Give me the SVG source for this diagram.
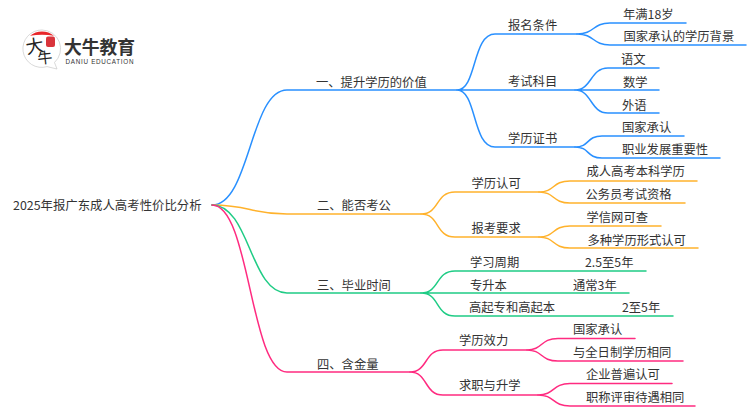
<svg xmlns="http://www.w3.org/2000/svg" width="750" height="410" viewBox="0 0 750 410">
<style>
text{font-family:"Noto Sans CJK SC","Liberation Sans",sans-serif;font-size:12.3px;fill:#333}
.c{fill:none;stroke-width:1.5;stroke-linecap:round}
.b{stroke:#2990ff}.o{stroke:#ffb22c}.g{stroke:#1fcc85}.p{stroke:#ff2b80}
</style>
<rect width="750" height="410" fill="#fff"/>
<g id="connectors">
<path class="c b" d="M212 205C250 205 250 90 287 90H457"/>
<path class="c b" d="M457 90C477 90 472 34 495 34H577M457 90H575M457 90C477 90 472 147 495 147H575"/>
<path class="c b" d="M577 34C595 34 592 23 610 23H686M577 34C595 34 592 45 610 45H746"/>
<path class="c b" d="M575 90C592 90 590 68 608 68H659M575 90H659M575 90C592 90 590 113 608 113H659"/>
<path class="c b" d="M575 147C590 147 586 136 602 136H684M575 147C590 147 586 158 602 158H720"/>
<path class="c o" d="M212 205C250 205 250 214 287 214H421"/>
<path class="c o" d="M421 214C440 214 435 192 455 192H539M421 214C440 214 435 237 455 237H539"/>
<path class="c o" d="M539 192C555 192 552 181 570 181H697M539 192C555 192 552 203 570 203H685"/>
<path class="c o" d="M539 237C555 237 552 226 570 226H661M539 237C555 237 552 248 570 248H698"/>
<path class="c g" d="M212 205C250 205 250 293 287 293H421"/>
<path class="c g" d="M421 293C440 293 435 271 455 271H646M421 293H629M421 293C440 293 435 316 455 316H673"/>
<path class="c p" d="M212 205C250 205 250 372 287 372H410"/>
<path class="c p" d="M410 372C428 372 424 350 443 350H527M410 372C428 372 424 395 443 395H538"/>
<path class="c p" d="M527 350C543 350 540 338.500 558 338.500H635M527 350C543 350 540 361 558 361H683"/>
<path class="c p" d="M538 395C555 395 552 383.500 570 383.500H672M538 395C555 395 552 406 570 406H695"/>
</g>
<g id="logo">
<path d="M42 30A18.700 18.700 0 1 0 47 66.600L57 69L54.500 62.500A18.700 18.700 0 0 0 42 30Z" fill="#fff" stroke="#c8c8c8" stroke-width=".7"/>
<path d="M30 35.800A18.700 18.700 0 0 1 54 35.800Q42 33.800 30 35.800Z" fill="#e8262a"/>
<rect x="46" y="36.500" width="9" height="10.500" rx="2" fill="#d9343c"/>
<text x="27" y="54" transform="rotate(-10 27 54)" style="font-size:18px;fill:#222">大</text>
<text x="38" y="64" transform="rotate(-6 38 64)" style="font-size:15px;fill:#222">牛</text>
<text x="64" y="53.500" style="font-size:17.800px;font-weight:700;fill:#333">大牛教育</text>
<text x="65.500" y="63.600" textLength="68" style="font-family:'Liberation Sans',sans-serif;font-size:6.300px;fill:#333">DANIU EDUCATION</text>
</g>
<g id="root"><text x="13" y="210" style="font-size:12.400px">2025年报广东成人高考性价比分析</text></g>
<g id="n1"><text x="316" y="86.500">一、提升学历的价值</text></g>
<g id="n1-1"><text x="508" y="29.500">报名条件</text></g>
<g id="n1-1-1"><text x="623" y="18.500">年满18岁</text></g>
<g id="n1-1-2"><text x="623.500" y="41">国家承认的学历背景</text></g>
<g id="n1-2"><text x="508" y="86">考试科目</text></g>
<g id="n1-2-1"><text x="621" y="64">语文</text></g>
<g id="n1-2-2"><text x="623" y="86.500">数学</text></g>
<g id="n1-2-3"><text x="622" y="109.500">外语</text></g>
<g id="n1-3"><text x="508" y="143">学历证书</text></g>
<g id="n1-3-1"><text x="622" y="131.500">国家承认</text></g>
<g id="n1-3-2"><text x="622" y="153.500">职业发展重要性</text></g>
<g id="n2"><text x="317" y="209.500">二、能否考公</text></g>
<g id="n2-1"><text x="471.500" y="187.500">学历认可</text></g>
<g id="n2-1-1"><text x="586.500" y="176">成人高考本科学历</text></g>
<g id="n2-1-2"><text x="585.500" y="199">公务员考试资格</text></g>
<g id="n2-2"><text x="471.500" y="232.500">报考要求</text></g>
<g id="n2-2-1"><text x="586.500" y="221.500">学信网可查</text></g>
<g id="n2-2-2"><text x="587.500" y="244.500">多种学历形式认可</text></g>
<g id="n3"><text x="317" y="289.500">三、毕业时间</text></g>
<g id="n3-1"><text x="470" y="266.500">学习周期</text></g>
<g id="n3-1-1"><text x="585" y="266.500">2.5至5年</text></g>
<g id="n3-2"><text x="470" y="289.500">专升本</text></g>
<g id="n3-2-1"><text x="573" y="289.500">通常3年</text></g>
<g id="n3-3"><text x="469" y="311.500">高起专和高起本</text></g>
<g id="n3-3-1"><text x="622" y="311.500">2至5年</text></g>
<g id="n4"><text x="317" y="368.500">四、含金量</text></g>
<g id="n4-1"><text x="459" y="344.500">学历效力</text></g>
<g id="n4-1-1"><text x="573" y="333.500">国家承认</text></g>
<g id="n4-1-2"><text x="573" y="356.500">与全日制学历相同</text></g>
<g id="n4-2"><text x="459" y="389.500">求职与升学</text></g>
<g id="n4-2-1"><text x="586" y="378.500">企业普遍认可</text></g>
<g id="n4-2-2"><text x="586" y="401.500">职称评审待遇相同</text></g>
</svg>
